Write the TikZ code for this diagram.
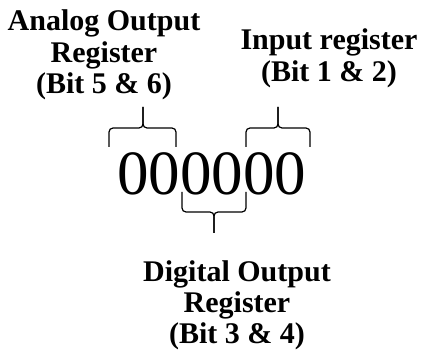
\documentclass[tikz,border=0pt]{standalone}
\usepackage{fontspec}
\setmainfont{Liberation Serif}
\usetikzlibrary{positioning}
% brace: x-left, x-tip, x-right, y-ends, y-bar, y-tip
\newcommand{\regbrace}[6]{%
  \draw[rounded corners=4pt] (#1,#4) -- (#1,#5) -- (#2,#5) -- (#2,#6);
  \draw[rounded corners=4pt] (#3,#4) -- (#3,#5) -- (#2,#5) -- (#2,#6);
}

\begin{document}
\begin{tikzpicture}[x=1pt,y=1pt,line width=1.2pt,
  digit/.style={anchor=base,inner sep=0pt,font=\fontsize{63}{63}\selectfont},
  reglabel/.style={anchor=base,inner sep=0pt,align=center,
    font=\fontsize{30}{31.5}\selectfont\bfseries}]
  \useasboundingbox (0,0) rectangle (421,354);
  % the six bits
  \foreach \i in {1,...,6}{
    \node[digit] (d\i) at ({132.75+31.5*(\i-1)},159) {0};
  }
  % labels (base = last line)
  \node[reglabel] (aor) at (104,260) {Analog Output\\Register\\(Bit 5 \& 6)};
  \node[reglabel] (inreg) at (329,272.5) {Input register\\(Bit 1 \& 2)};
  \node[reglabel] (dor) at (237,10) {Digital Output\\Register\\(Bit 3 \& 4)};
  % braces
  \regbrace{109}{143}{176}{207}{226}{247}
  \regbrace{246}{278}{310}{207}{226}{247}
  \regbrace{182}{214}{246}{162}{142}{121}
\end{tikzpicture}
\end{document}
